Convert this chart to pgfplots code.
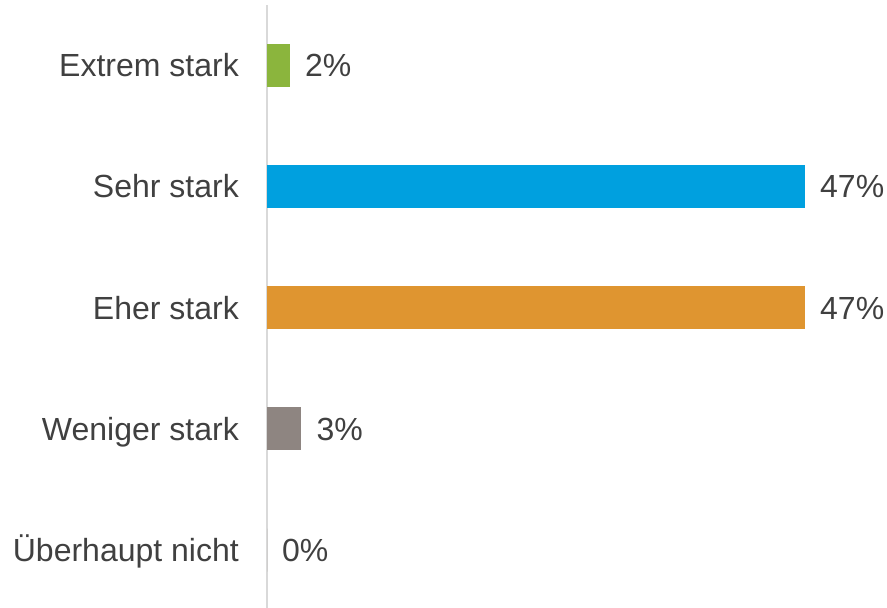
\documentclass[border=0pt]{standalone}
\usepackage{pgfplots}
\pgfplotsset{compat=1.18}
\usepackage{fontspec}
\setmainfont{Liberation Sans}
\definecolor{cgreen}{HTML}{8BB53D}
\definecolor{cblue}{HTML}{00A0DF}
\definecolor{corange}{HTML}{DF9530}
\definecolor{cgray}{HTML}{8E8581}
\definecolor{ctext}{HTML}{404040}
\definecolor{caxis}{HTML}{D9D9D9}
\begin{document}
\begin{tikzpicture}
\useasboundingbox (0,0) rectangle (887pt,608pt);
\begin{axis}[
  at={(267pt,0pt)}, anchor=south west,
  scale only axis, width=538pt, height=603pt,
  xmin=0, xmax=47, ymin=-0.478, ymax=4.495,
  xbar, bar width=43pt, bar shift=0pt,
  axis x line=none, axis y line*=left,
  y axis line style={draw=caxis, line width=1.5pt},
  ytick={0,1,2,3,4},
  yticklabels={Überhaupt nicht, Weniger stark, Eher stark, Sehr stark, Extrem stark},
  major tick length=0pt,
  /pgf/number format/assume math mode=true,
  yticklabel style={anchor=base east, inner sep=0pt, xshift=-28pt, yshift=-11.5pt, font=\fontsize{32}{38}\selectfont, text=ctext},
  point meta=x,
  nodes near coords={\pgfmathprintnumber[assume math mode=true]{\pgfplotspointmeta}\%},
  nodes near coords style={anchor=base west, inner sep=0pt, xshift=15pt, yshift=-11.5pt, font=\fontsize{32}{38}\selectfont, text=ctext},
  clip=false,
]
\addplot[fill=cgreen, draw=none] coordinates {(2,4)};
\addplot[fill=cblue, draw=none] coordinates {(47,3)};
\addplot[fill=corange, draw=none] coordinates {(47,2)};
\addplot[fill=cgray, draw=none] coordinates {(3,1)};
\addplot[fill=cgray, draw=none] coordinates {(0,0)};
\end{axis}
\end{tikzpicture}
\end{document}
